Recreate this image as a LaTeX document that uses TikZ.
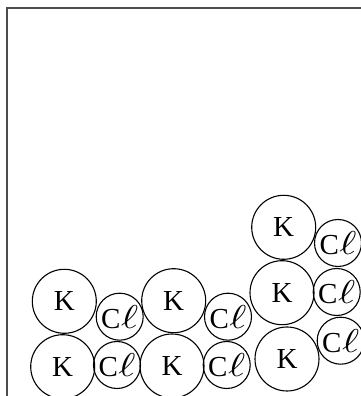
\documentclass[tikz,border=0pt]{standalone}
\usepackage{fontspec}
\usepackage{graphicx}
\setmainfont{Liberation Serif}
% chlorine symbol with a wide script ell
\newcommand{\chlor}{C\kern0.5pt\scalebox{4.1}[3.3]{\normalsize$\ell$}}
\tikzset{
  ionlabel/.style={font=\fontsize{29pt}{31pt}\selectfont},
  kion/.style={circle,draw,line width=1.1pt,minimum size=64pt,inner sep=0pt,ionlabel},
  clion/.style={circle,draw,line width=1.1pt,minimum size=47pt,inner sep=0pt,ionlabel}}
\begin{document}
\begin{tikzpicture}[x=1pt,y=1pt]
\useasboundingbox (0,0) rectangle (361,396);
\clip (0,0) rectangle (361,396);
\fill[white] (0,0) rectangle (361,396);
% container wall
\draw[line width=1.8pt,black!70] (7,-2) -- (7,388) -- (363,388);
% bottom layer
\node[kion]  (k1) at (62.7,29.3) {K};
\node[clion] (c1) at (117,31) {\chlor};
\node[kion]  (k2) at (172,30) {K};
\node[clion] (c2) at (226.7,31) {\chlor};
\node[kion]  (k3) at (287,37) {K};
\node[clion] (c3) at (340.7,55.3) {\chlor};
% second layer
\node[kion]  (k4) at (64.3,94.7) {K};
\node[clion] (c4) at (119.7,79.3) {\chlor};
\node[kion]  (k5) at (173.7,95.3) {K};
\node[clion] (c5) at (228,79.3) {\chlor};
\node[kion]  (k6) at (282,103.3) {K};
\node[clion] (c6) at (336.7,104) {\chlor};
% top layer
\node[kion]  (k7) at (283.7,168.7) {K};
\node[clion] (c7) at (338,153) {\chlor};
\end{tikzpicture}
\end{document}
